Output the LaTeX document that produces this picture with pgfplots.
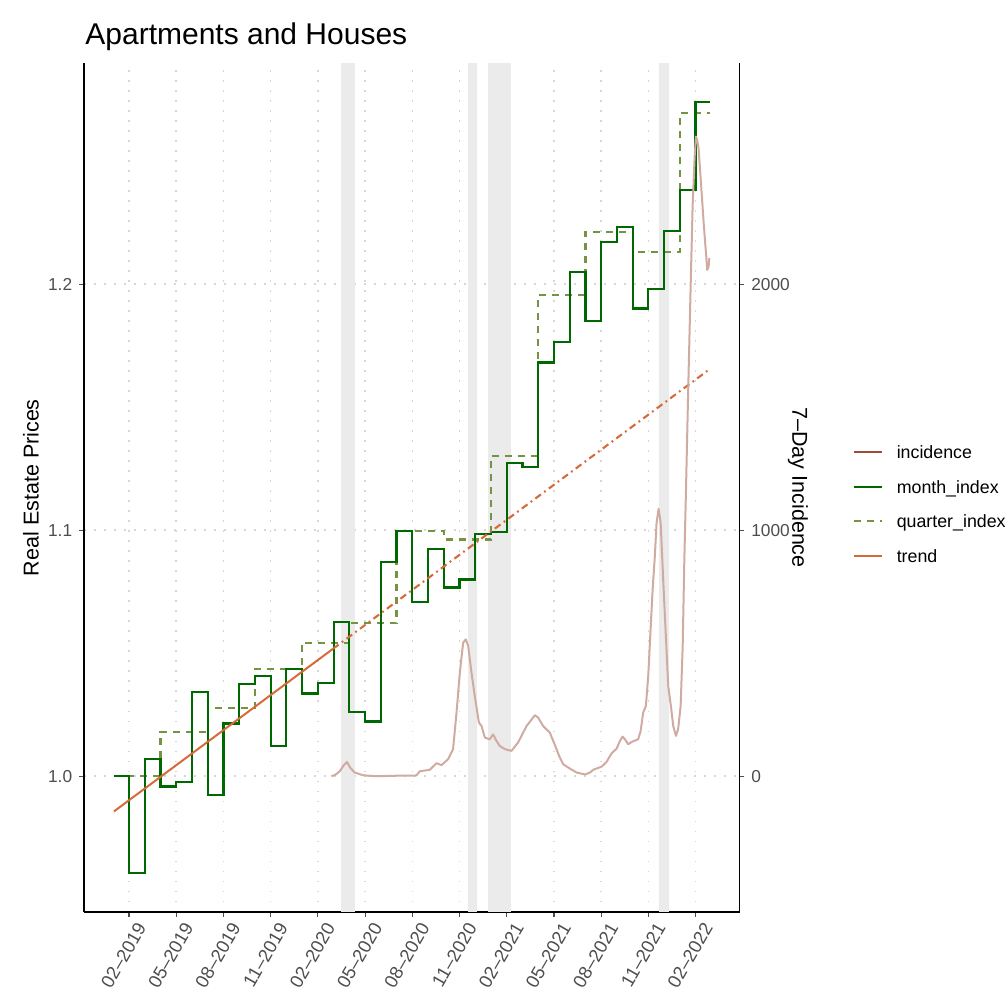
\documentclass[border=0pt]{standalone}
\usepackage{fontspec}
\setmainfont{Liberation Sans}
\usepackage{pgfplots}
\usepackage{pgfplotstable}
\pgfplotsset{compat=1.18}

\definecolor{mgreen}{RGB}{0,104,0}
\definecolor{qgreen}{RGB}{116,148,68}
\definecolor{trendc}{RGB}{214,106,58}
\definecolor{incc}{RGB}{207,171,161}
\definecolor{inckey}{RGB}{155,78,52}
\definecolor{band}{RGB}{235,235,235}
\definecolor{gridc}{RGB}{215,215,215}
\definecolor{tickc}{RGB}{77,77,77}

\pgfplotstableread{
m v
-0.96 1.0000
0 0.9605
1 1.0070
2 0.9958
3 0.9976
4 1.0341
5 0.9924
6 1.0214
7 1.0375
8 1.0406
9 1.0123
10 1.0436
11 1.0336
12 1.0380
13 1.0628
14 1.0261
15 1.0222
16 1.0872
17 1.0996
18 1.0708
19 1.0925
20 1.0767
21 1.0800
22 1.0985
23 1.0993
24 1.1274
25 1.1256
26 1.1682
27 1.1765
28 1.2048
29 1.1849
30 1.2172
31 1.2234
32 1.1901
33 1.1980
34 1.2217
35 1.2382
36 1.2741
36.9 1.2741
}\monthtab

\pgfplotstableread{
m v
-0.96 1.0000
2 1.0181
5 1.0276
8 1.0436
11 1.0543
14 1.0623
17 1.0996
20 1.0962
23 1.1303
26 1.1955
29 1.2211
32 1.2130
35 1.2695
36.9 1.2695
}\quartertab

\pgfplotstableread{
m inc
12.86 0
13.10 5
13.39 20
13.65 45
13.85 58
14.05 35
14.34 15
14.87 4
15.40 1
15.93 0
16.99 2
17.60 2
18.26 3
18.47 20
19.11 26
19.54 53
19.85 45
20.27 69
20.59 110
20.81 259
21.02 421
21.23 543
21.40 556
21.55 529
21.76 421
21.97 326
22.23 218
22.40 204
22.61 157
22.92 150
23.13 170
23.35 143
23.56 123
23.88 110
24.30 103
24.72 137
25.26 204
25.79 248
26.00 238
26.31 204
26.74 177
27.10 120
27.37 76
27.58 49
28.01 31
28.44 15
28.97 7
29.29 15
29.49 26
30.03 39
30.34 58
30.66 93
30.98 112
31.19 143
31.36 161
31.51 150
31.72 130
31.93 139
32.35 150
32.51 184
32.67 259
32.84 285
32.99 407
33.14 597
33.27 759
33.41 894
33.52 1030
33.65 1087
33.78 1030
33.94 800
34.11 570
34.26 367
34.43 285
34.58 204
34.75 164
34.89 191
35.05 285
35.18 529
35.28 868
35.38 1138
35.53 1571
35.68 1977
35.81 2316
35.94 2518
36.02 2600
36.10 2586
36.19 2552
36.27 2478
36.40 2356
36.53 2234
36.66 2126
36.74 2058
36.83 2072
36.87 2106
}\inctab

\begin{document}
\begin{tikzpicture}
\path[use as bounding box] (-42pt,-39pt) rectangle (460.5pt,456pt);
\pgfplotsset{
  common/.style={
    scale only axis, width=327.75pt, height=424.35pt,
    xmin=-2.86, xmax=38.79,
    tick align=outside, major tick length=2.4pt,
    tick style={tickc, line width=0.55pt},
    axis line style={black, line width=0.9pt},
    ticklabel style={font=\fontsize{8.65}{10}\selectfont, text=tickc},
  }
}
\begin{axis}[common,
  ymin=0.9448, ymax=1.2898,
  axis x line*=bottom, axis y line*=left,
  xtick={0,3,...,36},
  xticklabels={02--2019,05--2019,08--2019,11--2019,02--2020,05--2020,08--2020,11--2020,02--2021,05--2021,08--2021,11--2021,02--2022},
  xticklabel style={rotate=60, anchor=north east, inner sep=1pt, xshift=1pt, yshift=-2.8pt, font=\fontsize{9.2}{10}\selectfont},
  ytick={1.0,1.1,1.2}, yticklabels={1.0,1.1,1.2},
  grid=major, grid style={gridc, line width=0.75pt, dash pattern=on 0.75pt off 4.25pt},
  ylabel={Real Estate Prices},
  every axis y label/.style={at={(rel axis cs:0,0.5)}, xshift=-26.5pt, rotate=90, anchor=center, font=\fontsize{10.75}{12}\selectfont},
  title={Apartments and Houses},
  every axis title/.style={at={(rel axis cs:0,1)}, anchor=base west, yshift=9.15pt, xshift=0.5pt, inner sep=0pt, font=\fontsize{15}{18}\selectfont},
]
\addplot[fill=band, draw=none] coordinates {(13.45,0.9448) (13.45,1.2898) (14.39,1.2898) (14.39,0.9448)} -- cycle;
\addplot[fill=band, draw=none] coordinates {(21.54,0.9448) (21.54,1.2898) (22.14,1.2898) (22.14,0.9448)} -- cycle;
\addplot[fill=band, draw=none] coordinates {(22.80,0.9448) (22.80,1.2898) (24.24,1.2898) (24.24,0.9448)} -- cycle;
\addplot[fill=band, draw=none] coordinates {(33.67,0.9448) (33.67,1.2898) (34.30,1.2898) (34.30,0.9448)} -- cycle;
\addplot[const plot, qgreen, line width=1.1pt, dash pattern=on 3.5pt off 3pt] table[x=m, y=v] {\quartertab};
\addplot[const plot, mgreen, line width=1.1pt] table[x=m, y=v] {\monthtab};
\addplot[trendc, line width=1pt] coordinates {(-0.96,0.98567) (12.96,1.05179)};
\addplot[trendc, line width=1.05pt, dash pattern=on 3.5pt off 2pt on 0.9pt off 2pt] coordinates {(12.96,1.05179) (36.9,1.1655)};
\end{axis}
\begin{axis}[common,
  ymin=-552, ymax=2898,
  axis y line*=right, axis x line=none,
  ytick={0,1000,2000}, yticklabels={0,1000,2000},
  ylabel={7--Day Incidence},
  every axis y label/.style={at={(rel axis cs:1,0.5)}, xshift=29.25pt, rotate=-90, anchor=center, font=\fontsize{10.75}{12}\selectfont},
  legend style={at={(1.1731,0.4805)}, anchor=west, draw=none, fill=none, inner sep=0pt, column sep=0pt, row sep=10.9pt,
    font=\fontsize{8.9}{10}\selectfont, nodes={inner sep=0pt, text height=6.4pt, text depth=0pt}},
  legend cell align=left,
  legend image code/.code={\path[draw=none] (0pt,0pt) -- (21.2pt,0pt); \draw[#1] (0pt,0pt) -- (14pt,0pt);},
]
\addplot[incc, line width=1pt, line join=round, forget plot] table[x=m, y=inc] {\inctab};
\addlegendimage{inckey, line width=1pt}
\addlegendentry{incidence}
\addlegendimage{mgreen, line width=1pt}
\addlegendentry{month\_index}
\addlegendimage{qgreen, line width=1pt, dash pattern=on 3.5pt off 3pt}
\addlegendentry{quarter\_index}
\addlegendimage{trendc, line width=1pt}
\addlegendentry{trend}
\end{axis}
\end{tikzpicture}
\end{document}
